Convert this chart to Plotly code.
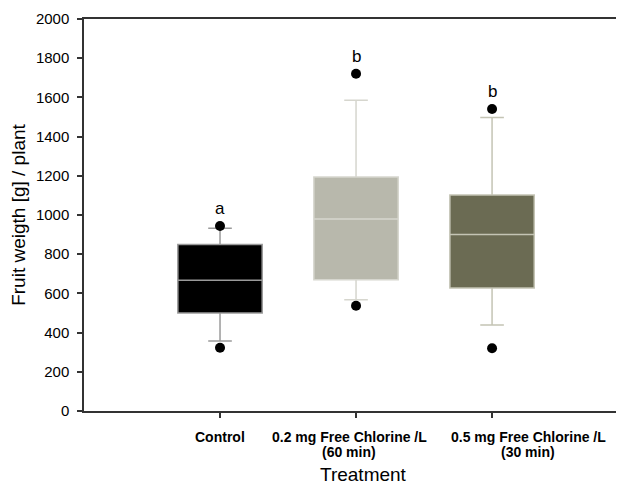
import plotly.graph_objects as go

categories = ["Control", "0.2 mg Free Chlorine /L<br>(60 min)", "0.5 mg Free Chlorine /L<br>(30 min)"]
q1 = [500, 670, 628]
median = [667, 980, 900]
q3 = [850, 1194, 1102]
lower_whisker = [357, 568, 439]
upper_whisker = [932, 1585, 1498]
outliers_low = [323, 537, 320]
outliers_high = [944, 1721, 1541]
letters = ["a", "b", "b"]
fill_colors = ["#000000", "#b8b8ac", "#6b6b53"]
line_colors = ["#9a9a9a", "#d6d6ce", "#c4c4b4"]
label_xshift = [0, -7, 36]

fig = go.Figure()
for i, cat in enumerate(categories):
    fig.add_trace(go.Box(
        x=[cat], q1=[q1[i]], median=[median[i]], q3=[q3[i]],
        lowerfence=[lower_whisker[i]], upperfence=[upper_whisker[i]],
        fillcolor=fill_colors[i], line=dict(color=line_colors[i], width=1.5),
        boxpoints=False, width=0.62, whiskerwidth=0.28, showlegend=False,
        hoverinfo="skip",
    ))

fig.add_trace(go.Scatter(
    x=categories + categories, y=outliers_low + outliers_high,
    mode="markers", marker=dict(color="black", size=10),
    showlegend=False, hoverinfo="skip",
))

for i, cat in enumerate(categories):
    fig.add_annotation(x=cat, y=outliers_high[i], text=letters[i], showarrow=False,
                       yanchor="bottom", yshift=6,
                       font=dict(family="Liberation Sans, Arial", size=17, color="black"))
    lines = cat.split("<br>")
    for j, ln in enumerate(lines):
        fig.add_annotation(x=cat, xref="x", y=0, yref="paper", text=ln, showarrow=False,
                           yanchor="middle", yshift=-26 - 15 * j, xshift=label_xshift[i],
                           font=dict(family="Liberation Sans, Arial", size=14,
                                     color="black", weight="bold"))

fig.add_annotation(x=0.517, xref="paper", y=0, yref="paper", text="Treatment", showarrow=False,
                   yanchor="middle", yshift=-63,
                   font=dict(family="Liberation Sans, Arial", size=19, color="black"))

fig.update_layout(
    width=616, height=476,
    margin=dict(l=76, r=0, t=11, b=73),
    plot_bgcolor="white", paper_bgcolor="white",
    font=dict(family="Liberation Sans, Arial", color="black"),
)
fig.update_xaxes(
    type="category", categoryorder="array", categoryarray=categories,
    range=[-1, 2.97], automargin=False, showticklabels=False,
    showline=True, linecolor="#333333", linewidth=1.5, mirror=True,
    ticks="outside", ticklen=5, tickcolor="#333333", tickwidth=1.5,
    showgrid=False, zeroline=False,
)
fig.update_yaxes(
    range=[0, 2000], dtick=200, automargin=False,
    showline=True, linecolor="#333333", linewidth=1.5,
    ticks="outside", ticklen=5, tickcolor="#333333", tickwidth=1.5,
    ticklabelstandoff=5,
    showgrid=False, zeroline=False,
    tickfont=dict(size=15, color="black"),
    title=dict(text="Fruit weigth [g] / plant", font=dict(size=19), standoff=8),
)

fig.write_html("out.html")
